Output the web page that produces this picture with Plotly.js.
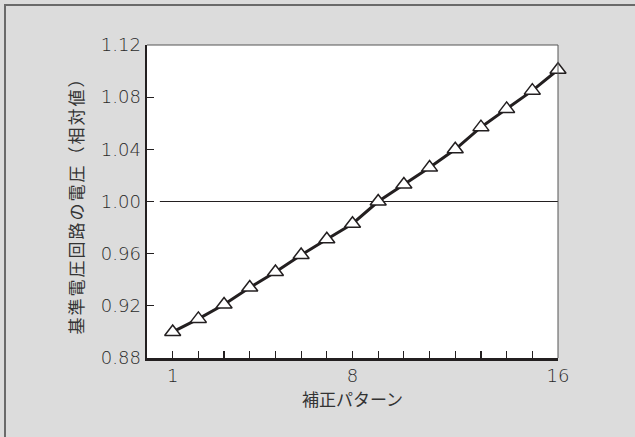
<!DOCTYPE html>
<html>
<head>
<meta charset="utf-8">
<script src="https://cdn.plot.ly/plotly-3.0.1.min.js"></script>
<style>
html,body{margin:0;padding:0;background:#dcdcdc;}
#wrap{position:relative;width:635px;height:437px;overflow:hidden;}
#chart{width:635px;height:437px;}
#frame{position:absolute;left:4px;top:4px;width:700px;height:500px;border-left:2px solid #6a6a6a;border-top:2px solid #6a6a6a;pointer-events:none;}
</style>
</head>
<body>
<div id="wrap"><div id="chart"></div><div id="frame"></div></div>
<script>
// Data
const pattern = [1,2,3,4,5,6,7,8,9,10,11,12,13,14,15,16];
const voltage = [0.900,0.910,0.921,0.934,0.946,0.959,0.971,0.983,1.000,1.013,1.026,1.040,1.057,1.071,1.085,1.101];
const xTickVals = [1,2,3,4,5,6,7,8,9,10,11,12,13,14,15,16];
const xTickText = ["1","","","","","","","8","","","","","","","","16"];
const yTickVals = [0.88,0.92,0.96,1.00,1.04,1.08,1.12];
const yTickText = ["0.88","0.92","0.96","1.00","1.04","1.08","1.12"];
const refValue = 1.00;
const xTitle = "補正パターン";
const yTitle = "基準電圧回路の電圧（相対値）";

const cjk = "'Noto Sans CJK JP', 'Noto Sans', sans-serif";
const num = "'DejaVu Sans', 'Noto Sans', sans-serif";

const trace = {
  x: pattern, y: voltage, type: 'scatter', mode: 'lines+markers',
  line: {color: '#231f20', width: 3},
  marker: {symbol: 'triangle-up', size: 14, color: '#ffffff', line: {color: '#231f20', width: 1.5}},
  cliponaxis: false, hoverinfo: 'skip'
};

const layout = {
  width: 635, height: 437,
  paper_bgcolor: '#dcdcdc', plot_bgcolor: '#ffffff',
  margin: {l: 147, r: 77, t: 45, b: 79},
  showlegend: false,
  font: {family: cjk, color: '#333333'},
  xaxis: {
    range: [0, 16], tickvals: xTickVals, ticktext: xTickText,
    ticks: 'inside', ticklen: 7, tickwidth: 1.2, tickcolor: '#231f20',
    showline: true, linecolor: '#231f20', linewidth: 2.5,
    showgrid: false, zeroline: false,
    tickfont: {size: 18, color: '#2a2a2a', family: num, weight: 300},
    title: {text: xTitle, font: {size: 17, color: '#333333', family: cjk}, standoff: 4}
  },
  yaxis: {
    range: [0.88, 1.12], tickvals: yTickVals, ticktext: yTickText,
    ticks: 'inside', ticklen: 7, tickwidth: 1.2, tickcolor: '#231f20',
    showline: true, linecolor: '#231f20', linewidth: 2.5,
    showgrid: false, zeroline: false,
    tickfont: {size: 18, color: '#2a2a2a', family: num, weight: 300},
    title: {text: yTitle, font: {size: 17, color: '#333333', family: cjk}, standoff: 13}
  },
  shapes: [
    {type: 'line', xref: 'paper', yref: 'paper', x0: 0, x1: 1, y0: 1, y1: 1, line: {color: '#555555', width: 1}},
    {type: 'line', xref: 'paper', yref: 'paper', x0: 1, x1: 1, y0: 0, y1: 1, line: {color: '#555555', width: 1}},
    {type: 'line', xref: 'x', yref: 'y', x0: 0.5, x1: 16, y0: refValue, y1: refValue, line: {color: '#231f20', width: 1}, layer: 'below'}
  ]
};

Plotly.newPlot('chart', [trace], layout, {staticPlot: true, displayModeBar: false}).then(function(){
  const t = document.querySelector('.ytitle');
  if (t) t.style.letterSpacing = '2px';
});
</script>
</body>
</html>
